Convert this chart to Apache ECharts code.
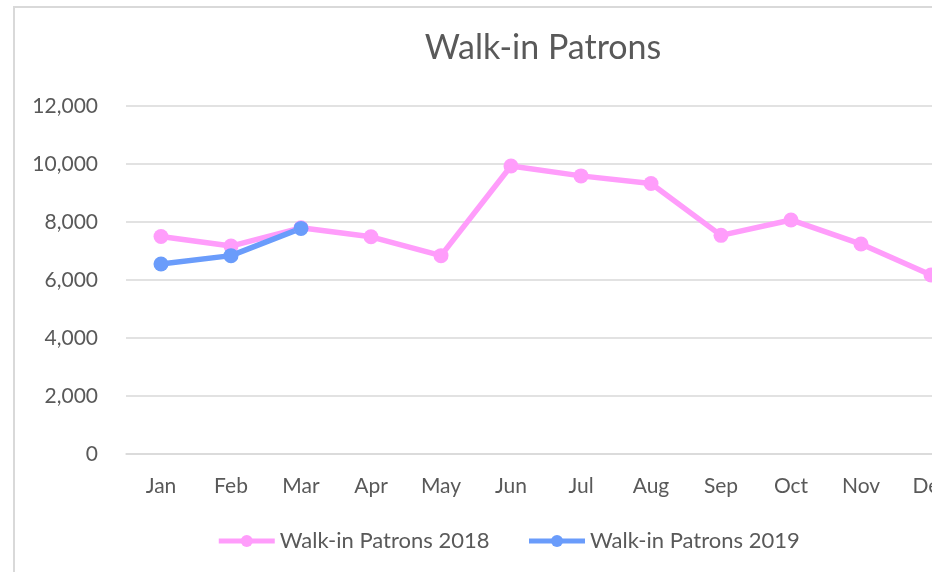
<!DOCTYPE html>
<html>
<head>
<meta charset="utf-8">
<script src="https://cdn.jsdelivr.net/npm/echarts@6/dist/echarts.min.js"></script>
<style>
  html, body { margin: 0; padding: 0; background: #fff; }
  #wrap { position: absolute; left: 0; top: 0; width: 932px; height: 572px; overflow: hidden; }
  #frame { position: absolute; left: 13px; top: 6px; width: 1200px; height: 800px;
           border-left: 2px solid #d9d9d9; border-top: 2px solid #d9d9d9; }
  #chart { position: absolute; left: 0; top: 0; width: 1016px; height: 572px; }
</style>
</head>
<body>
<div id="wrap">
  <div id="frame"></div>
  <div id="chart"></div>
</div>
<script>
const months = ['Jan', 'Feb', 'Mar', 'Apr', 'May', 'Jun', 'Jul', 'Aug', 'Sep', 'Oct', 'Nov', 'Dec'];
const patrons2018 = [7500, 7170, 7800, 7490, 6840, 9930, 9590, 9330, 7540, 8070, 7240, 6170];
const patrons2019 = [6550, 6840, 7780, null, null, null, null, null, null, null, null, null];
const yTicks = [0, 2000, 4000, 6000, 8000, 10000, 12000];

const grey = '#595959';
const font = 'Lato, "Open Sans", sans-serif';
const pink = '#ff9dfb';
const blue = '#6a9cfb';

const myChart = echarts.init(document.getElementById('chart'));

const option = {
  animation: false,
  title: {
    text: 'Walk-in Patrons',
    left: 538,
    top: 26,
    textAlign: 'center',
    textStyle: { fontSize: 34, fontWeight: 'normal', color: grey, fontFamily: font }
  },
  legend: {
    data: ['Walk-in Patrons 2018', 'Walk-in Patrons 2019'],
    left: 'center',
    top: 525,
    itemWidth: 56,
    itemHeight: 15,
    itemGap: 37,
    lineStyle: { width: 5 },
    textStyle: { fontSize: 22, color: grey, fontFamily: font }
  },
  grid: { left: 126, top: 106, width: 840, height: 348 },
  xAxis: {
    type: 'category',
    data: months,
    boundaryGap: true,
    axisLine: { lineStyle: { color: '#d9d9d9', width: 1.5 } },
    axisTick: { show: false },
    axisLabel: { color: grey, fontSize: 21, fontFamily: font, margin: 22 }
  },
  yAxis: {
    type: 'value',
    min: yTicks[0],
    max: yTicks[yTicks.length - 1],
    interval: 2000,
    axisLine: { show: false },
    axisTick: { show: false },
    axisLabel: {
      color: grey, fontSize: 21, fontFamily: font, margin: 28,
      formatter: v => v.toLocaleString('en-US')
    },
    splitLine: { lineStyle: { color: '#d9d9d9', width: 1.5 } }
  },
  series: [
    {
      name: 'Walk-in Patrons 2018',
      type: 'line',
      data: patrons2018,
      symbol: 'circle',
      symbolSize: 15,
      color: pink,
      lineStyle: { width: 5.5, color: pink },
      itemStyle: { color: pink }
    },
    {
      name: 'Walk-in Patrons 2019',
      type: 'line',
      data: patrons2019,
      symbol: 'circle',
      symbolSize: 15,
      color: blue,
      lineStyle: { width: 5.5, color: blue },
      itemStyle: { color: blue }
    }
  ]
};

myChart.setOption(option);
</script>
</body>
</html>
